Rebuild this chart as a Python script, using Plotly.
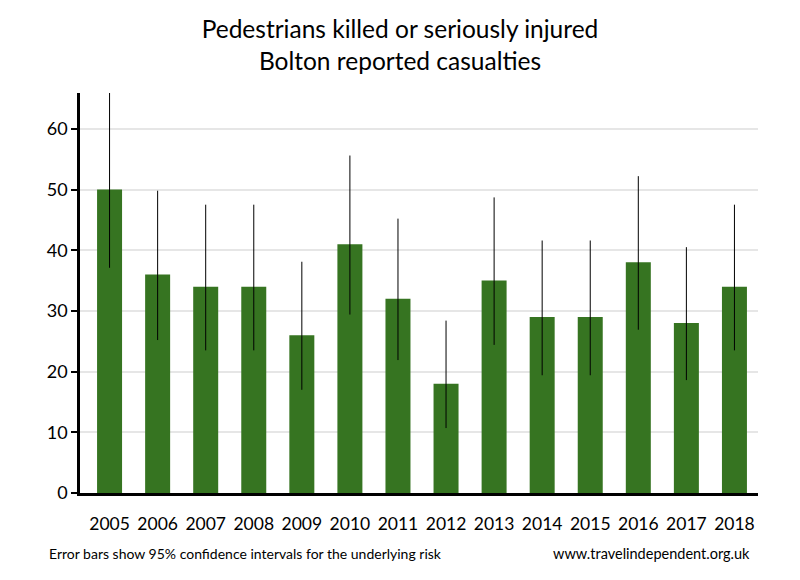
import plotly.graph_objects as go

years = ['2005', '2006', '2007', '2008', '2009', '2010', '2011',
         '2012', '2013', '2014', '2015', '2016', '2017', '2018']
casualties = [50, 36, 34, 34, 26, 41, 32, 18, 35, 29, 29, 38, 28, 34]
ci_upper = [65.9, 49.8, 47.5, 47.5, 38.1, 55.6, 45.2, 28.4, 48.7, 41.6, 41.6, 52.2, 40.5, 47.5]
ci_lower = [37.1, 25.2, 23.5, 23.5, 17.0, 29.4, 21.9, 10.7, 24.4, 19.4, 19.4, 26.9, 18.6, 23.5]

err_plus = [u - v for u, v in zip(ci_upper, casualties)]
err_minus = [v - l for v, l in zip(casualties, ci_lower)]

font = 'Lato, Open Sans, sans-serif'

fig = go.Figure(go.Bar(
    x=years,
    y=casualties,
    marker=dict(color='#367421', line=dict(width=0)),
    width=0.52,
    error_y=dict(type='data', symmetric=False, array=err_plus, arrayminus=err_minus,
                 color='black', thickness=1, width=0),
))

# the page body has an 8px margin, so everything is laid out 8px up/left of where it lands
fig.update_layout(
    width=800, height=580,
    margin=dict(l=72, r=50, t=85, b=95),
    plot_bgcolor='white', paper_bgcolor='white',
    font=dict(family=font, color='black'),
    showlegend=False,
    title=dict(text='Pedestrians killed or seriously injured<br>Bolton reported casualties',
               x=0.49, xanchor='center', y=0.948, yanchor='top', yref='container',
               font=dict(size=24.5, family=font, color='black')),
)

fig.update_xaxes(
    type='category', range=[-0.615, 13.49],
    showline=True, linecolor='black', linewidth=2.5,
    ticks='outside', ticklen=13, tickcolor='rgba(0,0,0,0)',
    tickfont=dict(size=17.5), showgrid=False,
)
fig.update_yaxes(
    range=[0, 65.9], tickvals=[0, 10, 20, 30, 40, 50, 60],
    showline=True, linecolor='black', linewidth=2.5,
    ticks='outside', ticklen=6, tickwidth=2, tickcolor='black',
    tickfont=dict(size=18), showgrid=True, gridcolor='#e6e6e6', gridwidth=1.5,
    zeroline=False,
)

fig.add_annotation(text='Error bars show 95% confidence intervals for the underlying risk',
                   xref='paper', yref='paper', x=-0.0487, y=-0.15, xanchor='left', yanchor='middle',
                   showarrow=False, font=dict(size=14))
fig.add_annotation(text='www.travelindependent.org.uk',
                   xref='paper', yref='paper', x=0.9916, y=-0.15, xanchor='right', yanchor='middle',
                   showarrow=False, font=dict(size=14.5))

fig.write_html('out.html')
